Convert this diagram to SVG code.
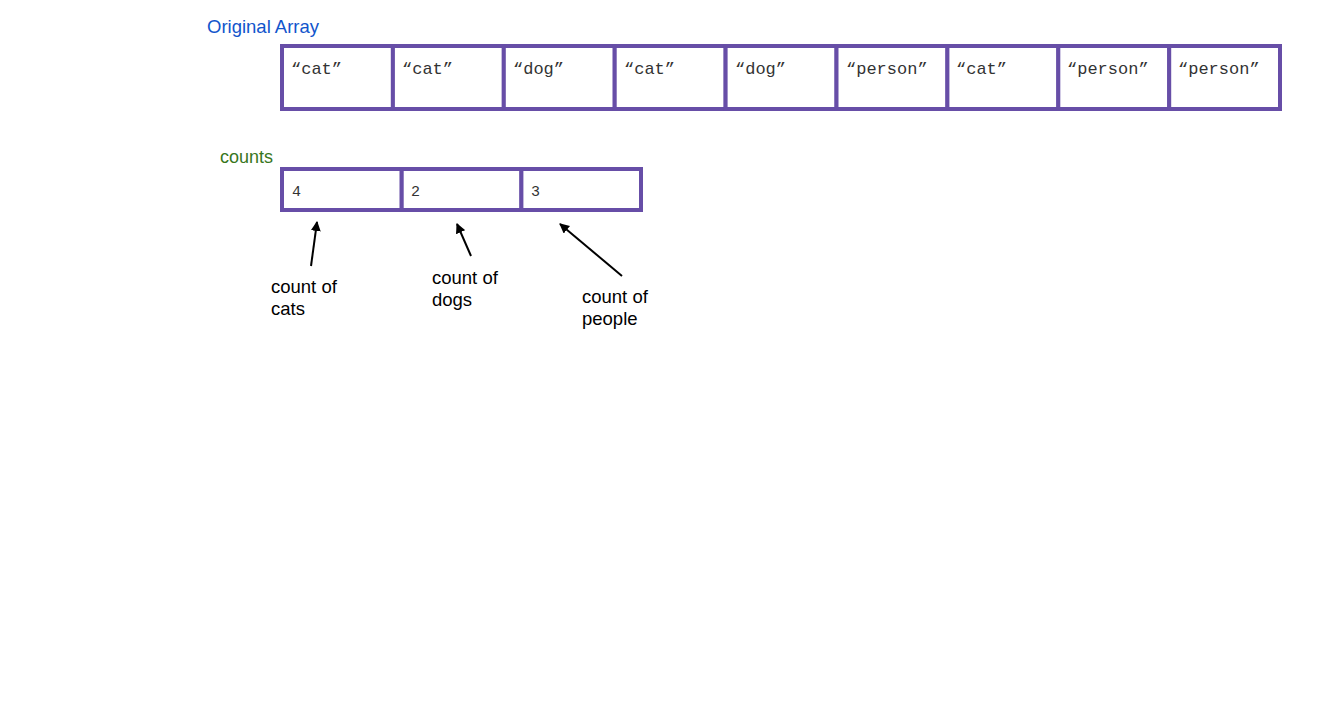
<svg xmlns="http://www.w3.org/2000/svg" width="1322" height="715" viewBox="0 0 1322 715">
<style>
.cell{fill:#fff;stroke:#674ea7;stroke-width:4}
.val{font-family:"Liberation Mono","Courier New",monospace;font-size:17px;fill:#333}
.num{font-family:"Liberation Mono","Courier New",monospace;font-size:15px;fill:#333}
.lbl{font-family:"Liberation Sans",Arial,sans-serif;font-size:18.5px;fill:#000}
.arr{stroke:#000;stroke-width:2;fill:none;marker-end:url(#ah)}
</style>
<defs>
<marker id="ah" viewBox="0 0 10 10" refX="9" refY="5" markerWidth="5" markerHeight="5" orient="auto" markerUnits="strokeWidth">
<path d="M0,0 L10,5 L0,10 z" fill="#000"/>
</marker>
</defs>
<rect width="1322" height="715" fill="#fff"/>
<text x="207" y="33" font-family="Liberation Sans, Arial, sans-serif" font-size="18.5" fill="#1155cc">Original Array</text>
<g id="original-array">
<g id="a0"><rect class="cell" x="282" y="46" width="110.9" height="63"/><text class="val" x="291" y="74">“cat”</text></g>
<g id="a1"><rect class="cell" x="392.9" y="46" width="110.9" height="63"/><text class="val" x="402" y="74">“cat”</text></g>
<g id="a2"><rect class="cell" x="503.8" y="46" width="110.9" height="63"/><text class="val" x="513" y="74">“dog”</text></g>
<g id="a3"><rect class="cell" x="614.7" y="46" width="110.9" height="63"/><text class="val" x="624" y="74">“cat”</text></g>
<g id="a4"><rect class="cell" x="725.6" y="46" width="110.9" height="63"/><text class="val" x="735" y="74">“dog”</text></g>
<g id="a5"><rect class="cell" x="836.5" y="46" width="110.9" height="63"/><text class="val" x="846" y="74">“person”</text></g>
<g id="a6"><rect class="cell" x="947.4" y="46" width="110.9" height="63"/><text class="val" x="956" y="74">“cat”</text></g>
<g id="a7"><rect class="cell" x="1058.3" y="46" width="110.9" height="63"/><text class="val" x="1067" y="74">“person”</text></g>
<g id="a8"><rect class="cell" x="1169.2" y="46" width="110.8" height="63"/><text class="val" x="1178" y="74">“person”</text></g>
</g>
<text x="220" y="163" font-family="Liberation Sans, Arial, sans-serif" font-size="18" fill="#38761d">counts</text>
<g id="counts">
<g id="c0"><rect class="cell" x="282" y="169" width="119.7" height="41"/><text class="num" x="292" y="196">4</text></g>
<g id="c1"><rect class="cell" x="401.7" y="169" width="119.7" height="41"/><text class="num" x="411" y="196">2</text></g>
<g id="c2"><rect class="cell" x="521.4" y="169" width="119.6" height="41"/><text class="num" x="531" y="196">3</text></g>
</g>
<g id="connectors">
<line class="arr" x1="311" y1="266" x2="317" y2="222"/>
<line class="arr" x1="471" y1="256" x2="457" y2="224"/>
<line class="arr" x1="622" y1="276" x2="560" y2="224"/>
</g>
<g id="label-cats"><text class="lbl" x="271" y="293">count of</text><text class="lbl" x="271" y="315">cats</text></g>
<g id="label-dogs"><text class="lbl" x="432" y="284">count of</text><text class="lbl" x="432" y="306">dogs</text></g>
<g id="label-people"><text class="lbl" x="582" y="303">count of</text><text class="lbl" x="582" y="325">people</text></g>
</svg>
